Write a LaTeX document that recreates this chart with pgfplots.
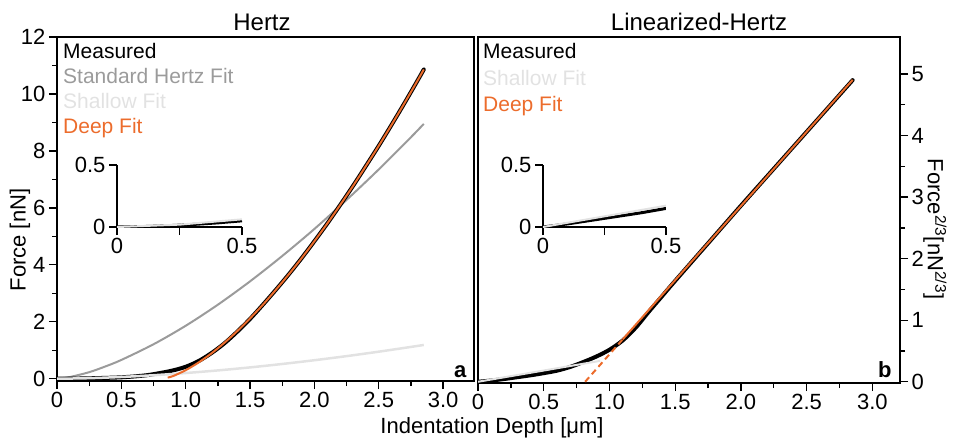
\documentclass[border=0pt]{standalone}
\usepackage{fontspec}
\setmainfont{Liberation Sans}
\usepackage{pgfplots}
\pgfplotsset{compat=1.18}

\definecolor{deep}{RGB}{236,108,44}
\definecolor{stdgray}{RGB}{155,155,155}
\definecolor{shallow}{RGB}{226,226,226}

\pgfplotsset{
  panel/.style={
    scale only axis,
    axis line style={line width=1.5pt},
    tick align=outside,
    tick style={line width=1.3pt, black},
    major tick length=8pt,
    minor tick length=5pt,
    tick label style={font=\fontsize{22}{24}\selectfont},
  },
  inset/.style={
    scale only axis,
    axis x line*=bottom, axis y line*=left,
    axis line style={line width=1.5pt},
    tick align=outside,
    tick style={line width=1.3pt, black},
    major tick length=8pt,
    tick label style={font=\fontsize{22}{24}\selectfont},
    xmin=0, xmax=0.5, ymin=0, ymax=0.5,
    xtick={0,0.25,0.5}, xticklabels={0,,0.5},
    ytick={0,0.5}, yticklabels={0,0.5},
  },
}

\begin{document}
\begin{tikzpicture}
\path (0pt,0pt) rectangle (954pt,-441pt);

% ---- panel a: Hertz ----
\begin{axis}[panel, at={(57pt,-381pt)}, anchor=south west,
  width=417pt, height=344pt,
  xmin=0, xmax=3.24, ymin=-0.08, ymax=12,
  xtick={0,0.5,1,1.5,2,2.5,3}, xticklabels={0,0.5,1.0,1.5,2.0,2.5,3.0},
  ytick={0,2,4,6,8,10,12}, yticklabels={0,2,4,6,8,10,12},
  minor x tick num=1, minor y tick num=1,
  xtick pos=left, ytick pos=left]
% standard Hertz fit
\addplot[stdgray, line width=2pt, smooth] coordinates {
  (0,0) (0.1,0.06) (0.25,0.23) (0.375,0.43) (0.5,0.66) (0.75,1.21) (1.0,1.86)
  (1.25,2.60) (1.5,3.42) (1.75,4.31) (2.0,5.26) (2.25,6.28) (2.5,7.35)
  (2.75,8.48) (2.85,8.95)};
% measured
\addplot[black, line width=4pt, line cap=round, line join=round, smooth] coordinates {
  (0,0) (0.1,0.003) (0.2,0.01) (0.3,0.02) (0.4,0.033) (0.5,0.05) (0.6,0.08)
  (0.7,0.125) (0.8,0.2) (0.9,0.29) (1.0,0.42) (1.1,0.62) (1.2,0.9) (1.3,1.24)
  (1.4,1.65) (1.5,2.1) (1.6,2.6) (1.7,3.12) (1.8,3.66) (1.9,4.23) (2.0,4.83)
  (2.1,5.45) (2.2,6.1) (2.3,6.77) (2.4,7.47) (2.5,8.18) (2.6,8.92) (2.7,9.68)
  (2.8,10.46) (2.85,10.86)};
% shallow fit
\addplot[shallow, line width=2.5pt, smooth] coordinates {
  (0,0) (0.25,0.019) (0.5,0.062) (0.75,0.123) (1.0,0.2) (1.25,0.292)
  (1.5,0.398) (1.75,0.518) (2.0,0.65) (2.25,0.794) (2.5,0.95) (2.75,1.117)
  (2.85,1.186)};
% deep fit
\addplot[deep, line width=2pt, smooth] coordinates {
  (0.86,0.04) (0.9,0.09) (1.0,0.3) (1.1,0.57) (1.2,0.89) (1.3,1.26) (1.4,1.67)
  (1.5,2.12) (1.6,2.6) (1.7,3.12) (1.8,3.66) (1.9,4.23) (2.0,4.83) (2.1,5.45)
  (2.2,6.1) (2.3,6.77) (2.4,7.47) (2.5,8.18) (2.6,8.92) (2.7,9.68) (2.8,10.46)
  (2.85,10.86)};
\end{axis}

% ---- panel b: Linearized-Hertz ----
\begin{axis}[panel, at={(478pt,-383pt)}, anchor=south west,
  width=422pt, height=346pt,
  xmin=0, xmax=3.21, ymin=-0.02, ymax=5.6,
  xtick={0,0.5,1,1.5,2,2.5,3}, xticklabels={0,0.5,1.0,1.5,2.0,2.5,3.0},
  ytick={0,1,2,3,4,5}, yticklabels={0,1,2,3,4,5},
  minor x tick num=1, minor y tick num=1,
  xtick pos=left, ytick pos=right, yticklabel pos=right]
% measured
\addplot[black, line width=4pt, line cap=round, line join=round, smooth] coordinates {
  (0,0) (0.1,0.02) (0.2,0.045) (0.3,0.075) (0.4,0.105) (0.5,0.14) (0.6,0.18)
  (0.7,0.24) (0.8,0.32) (0.9,0.41) (1.0,0.52) (1.1,0.67) (1.2,0.88) (1.3,1.14)
  (1.4,1.39) (1.5,1.64) (1.75,2.25) (2.0,2.86) (2.25,3.46) (2.5,4.06)
  (2.75,4.66) (2.85,4.9)};
% shallow fit
\addplot[shallow, line width=2pt] coordinates {(0,0) (0.93,0.34)};
% deep fit, extrapolated part dashed
\addplot[deep, line width=2pt, dash pattern=on 6pt off 4pt] coordinates {
  (0.815,0) (1.1,0.687)};
\addplot[deep, line width=2pt] coordinates {(1.1,0.687) (2.85,4.904)};
\end{axis}

% ---- insets ----
\begin{axis}[inset, at={(117pt,-227pt)}, anchor=south west,
  width=125pt, height=62pt]
\addplot[black, line width=3pt] coordinates {
  (0,0) (0.1,0.003) (0.2,0.01) (0.3,0.02) (0.4,0.033) (0.5,0.05)};
\addplot[shallow, line width=2pt] coordinates {
  (0,0) (0.25,0.019) (0.5,0.062)};
\end{axis}

\begin{axis}[inset, at={(543pt,-227pt)}, anchor=south west,
  width=123pt, height=62pt]
\addplot[black, line width=3pt] coordinates {
  (0,0) (0.1,0.025) (0.2,0.055) (0.3,0.085) (0.4,0.115) (0.5,0.15)};
\addplot[shallow, line width=2pt] coordinates {(0,0) (0.5,0.172)};
\end{axis}

% ---- titles, labels, legends ----
\node[font=\fontsize{24}{26}\selectfont, anchor=base] at (262pt,-30pt) {Hertz};
\node[font=\fontsize{24}{26}\selectfont, anchor=base] at (699pt,-30pt) {Linearized-Hertz};
\node[font=\fontsize{22}{24}\selectfont] at (492pt,-428pt) {Indentation Depth [μm]};
\node[font=\fontsize{22}{24}\selectfont, rotate=90] at (20pt,-240pt) {Force [nN]};
\node[font=\fontsize{22}{24}\selectfont, rotate=-90] at (935pt,-229pt)
  {Force\textsuperscript{2/3}[nN\textsuperscript{2/3}]};
\node[font=\fontsize{22}{24}\selectfont\bfseries, anchor=base east] at (470pt,-377pt) {a};
\node[font=\fontsize{22}{24}\selectfont\bfseries, anchor=base east] at (895pt,-377pt) {b};

\begin{scope}[every node/.style={font=\fontsize{21}{23}\selectfont, anchor=base west, inner xsep=0pt}]
\node[text=black] at (63pt,-58pt) {Measured};
\node[text=stdgray] at (63pt,-83pt) {Standard Hertz Fit};
\node[text=shallow] at (63pt,-108pt) {Shallow Fit};
\node[text=deep] at (63pt,-133pt) {Deep Fit};
\node[text=black] at (483pt,-58pt) {Measured};
\node[text=shallow] at (483pt,-85pt) {Shallow Fit};
\node[text=deep] at (483pt,-111pt) {Deep Fit};
\end{scope}
\end{tikzpicture}
\end{document}
